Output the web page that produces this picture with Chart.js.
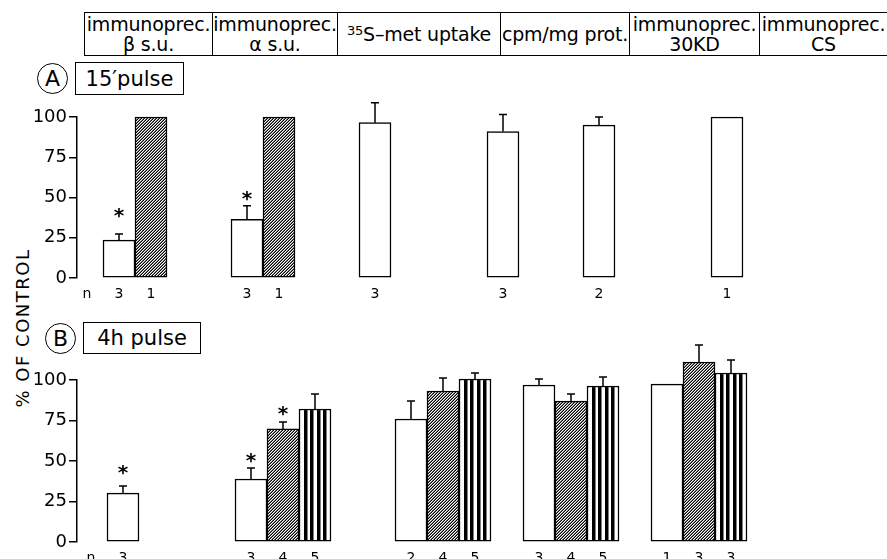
<!DOCTYPE html>
<html>
<head>
<meta charset="utf-8">
<script src="https://cdn.jsdelivr.net/npm/chart.js@4.4.1/dist/chart.umd.min.js"></script>
<style>
  body { margin: 0; background: #fff; }
  #wrap { position: relative; width: 887px; height: 559px; overflow: hidden; font-family: 'DejaVu Sans', sans-serif; color: #000; }
  .hdr { position: absolute; top: 12px; height: 44px; box-sizing: border-box; border-top: 1.5px solid #000; border-bottom: 1.5px solid #000; border-left: 1.5px solid #000; display: flex; flex-direction: column; justify-content: center; align-items: center; font-size: 19px; line-height: 20px; letter-spacing: -0.2px; white-space: nowrap; }
  .hdr sup { font-size: 13px; vertical-align: 6px; line-height: 0; }
  .circ { position: absolute; box-sizing: border-box; border: 1.5px solid #000; border-radius: 50%; display: flex; align-items: center; justify-content: center; font-size: 22px; }
  .tag { position: absolute; box-sizing: border-box; border: 1.5px solid #000; display: flex; align-items: center; justify-content: center; font-size: 21px; }
  .ytitle { position: absolute; left: 22px; top: 328px; transform: translate(-50%, -50%) rotate(-90deg); font-size: 18px; letter-spacing: 1.5px; white-space: nowrap; }
  canvas { position: absolute; left: 0; }
</style>
</head>
<body>
<div id="wrap">
  <div class="circ" style="left:37px; top:63px; width:31px; height:31px;">A</div>
  <div class="tag" style="left:75px; top:62px; width:109px; height:33px;">15′pulse</div>
  <div class="circ" style="left:45px; top:323px; width:31px; height:31px;">B</div>
  <div class="tag" style="left:83px; top:322px; width:118px; height:32px;">4h pulse</div>
  <div class="ytitle">% OF CONTROL</div>
  <canvas id="pulse15" width="887" height="210" style="top:95px;"></canvas>
  <canvas id="pulse4h" width="887" height="224" style="top:335px;"></canvas>
</div>
<script>
// column headings (left edge, right edge in px, text lines)
const headEdges = [84, 212, 337, 500, 629, 759, 887];
const headLines = [
  ['immunoprec.', 'β s.u.'],
  ['immunoprec.', 'α s.u.'],
  ['<sup>35</sup>S–met uptake'],
  ['cpm/mg prot.'],
  ['immunoprec.', '30KD'],
  ['immunoprec.', 'CS']
];

// A: 15' pulse. x = bar slot, values in % of control
const aWhiteX = [0, 4, 8, 12, 15, 19];
const aWhite = [23.5, 36.5, 96.5, 91, 95, 100];
const aWhiteErr = [3.8, 8.3, 12.3, 10.5, 5, 0];
const aWhiteN = ['3', '3', '3', '3', '2', '1'];
const aWhiteStar = [42, 53, null, null, null, null];
const aHatchX = [1, 5];
const aHatch = [100, 100];
const aHatchErr = [0, 0];
const aHatchN = ['1', '1'];

// B: 4h pulse
const bWhiteX = [0, 4, 9, 13, 17];
const bWhite = [30.2, 38.9, 75.9, 96.9, 97.5];
const bWhiteErr = [4.4, 6.8, 11.1, 3.7, 0];
const bWhiteN = ['3', '3', '2', '3', '1'];
const bWhiteStar = [46, 54, null, null, null];
const bHatchX = [5, 10, 14, 18];
const bHatch = [69.8, 93.2, 87, 111.1];
const bHatchErr = [4.3, 8, 4.4, 10.5];
const bHatchN = ['4', '4', '4', '3'];
const bHatchStar = [83, null, null, null];
const bStripeX = [6, 11, 15, 19];
const bStripe = [82.1, 100.6, 96.3, 104.3];
const bStripeErr = [9.3, 3.7, 5.6, 8];
const bStripeN = ['5', '5', '5', '3'];

const yTicks = [0, 25, 50, 75, 100];

// header boxes
const wrap = document.getElementById('wrap');
headLines.forEach((lines, i) => {
  const d = document.createElement('div');
  d.className = 'hdr';
  d.style.left = headEdges[i] + 'px';
  d.style.width = (headEdges[i + 1] - headEdges[i]) + 'px';
  d.innerHTML = lines.map(t => '<div>' + t + '</div>').join('');
  wrap.appendChild(d);
});

Chart.defaults.font.family = "'DejaVu Sans', sans-serif";
Chart.defaults.color = '#000';

// fine diagonal hatching
function hatch() {
  const c = document.createElement('canvas');
  c.width = 3; c.height = 3;
  const g = c.getContext('2d');
  g.fillStyle = '#fff'; g.fillRect(0, 0, 3, 3);
  for (let x = 0; x < 3; x++) {
    for (let y = 0; y < 3; y++) {
      const k = (x + y) % 3;
      if (k === 2) { g.fillStyle = '#000'; g.fillRect(x, y, 1, 1); }
      if (k === 1) { g.fillStyle = '#777'; g.fillRect(x, y, 1, 1); }
    }
  }
  return g.createPattern(c, 'repeat');
}

// vertical black stripes, lined up with the bar slots
function stripes(chart) {
  const c = document.createElement('canvas');
  c.width = 32; c.height = 2;
  const g = c.getContext('2d');
  g.fillStyle = '#fff'; g.fillRect(0, 0, 32, 2);
  g.fillStyle = '#000';
  [5, 11, 18, 24].forEach(s => g.fillRect(s, 0, 3.5, 2));
  const p = g.createPattern(c, 'repeat');
  const left = chart.scales.x.getPixelForValue(0) - 16;
  p.setTransform(new DOMMatrix().translate(left, 0));
  return p;
}

function series(xs, ys, fill, errs, ns, stars) {
  return {
    data: xs.map((x, i) => ({ x: x, y: ys[i] })),
    errors: errs, nums: ns, stars: stars || [],
    backgroundColor: fill,
    borderColor: '#000',
    borderWidth: 1.5,
    borderSkipped: false,
    grouped: false,
    barPercentage: 1,
    categoryPercentage: 1,
    clip: false
  };
}

// error bars (upper half) and asterisks
const errorBars = {
  id: 'errorBars',
  afterDatasetsDraw(chart) {
    const ctx = chart.ctx, y = chart.scales.y;
    ctx.save();
    ctx.strokeStyle = '#000';
    ctx.fillStyle = '#000';
    ctx.lineWidth = 1.5;
    ctx.font = "bold 20px 'DejaVu Sans'";
    ctx.textAlign = 'center';
    ctx.textBaseline = 'alphabetic';
    chart.data.datasets.forEach((ds, i) => {
      chart.getDatasetMeta(i).data.forEach((bar, j) => {
        const e = ds.errors[j];
        if (e) {
          const top = y.getPixelForValue(ds.data[j].y + e);
          ctx.beginPath();
          ctx.moveTo(bar.x, bar.y);
          ctx.lineTo(bar.x, top);
          ctx.moveTo(bar.x - 4, top);
          ctx.lineTo(bar.x + 4, top);
          ctx.stroke();
        }
        const s = ds.stars[j];
        if (s != null) ctx.fillText('*', bar.x, y.getPixelForValue(s) + 12);
      });
    });
    ctx.restore();
  }
};

function nLabels(datasets) {
  const m = { '-1': 'n' };
  datasets.forEach(ds => ds.data.forEach((p, i) => { m[p.x] = ds.nums[i]; }));
  return m;
}

function panel(id, datasets, xMin, xMax, padTop, axisH) {
  const nMap = nLabels(datasets);
  return new Chart(document.getElementById(id), {
    type: 'bar',
    data: { datasets: datasets },
    plugins: [errorBars],
    options: {
      responsive: false,
      animation: false,
      layout: { padding: { top: padTop, right: 16, left: 0, bottom: 0 } },
      plugins: { legend: { display: false }, tooltip: { enabled: false } },
      scales: {
        x: {
          type: 'linear',
          bounds: 'data',
          offset: false,
          min: xMin,
          max: xMax,
          grid: { display: false, offset: false },
          border: { display: false },
          afterBuildTicks: axis => { axis.ticks = Object.keys(nMap).map(v => ({ value: +v })); },
          afterFit: axis => { axis.height = axisH; },
          ticks: { autoSkip: false, maxRotation: 0, padding: 0, font: { size: 14 }, callback: v => nMap[v] || '' }
        },
        y: {
          min: 0,
          max: 100,
          afterBuildTicks: axis => { axis.ticks = yTicks.map(v => ({ value: v })); },
          afterFit: axis => { axis.width = 77; },
          ticks: { padding: 2, font: { size: 18 } },
          grid: { display: true, drawOnChartArea: false, drawTicks: true, tickLength: 8, color: '#000', lineWidth: 1.5 },
          border: { display: true, color: '#000', width: 1.5 }
        }
      }
    }
  });
}

panel('pulse15', [
  series(aWhiteX, aWhite, '#fff', aWhiteErr, aWhiteN, aWhiteStar),
  series(aHatchX, aHatch, hatch(), aHatchErr, aHatchN)
], -1.3125, 23.5, 22, 27);

panel('pulse4h', [
  series(bWhiteX, bWhite, '#fff', bWhiteErr, bWhiteN, bWhiteStar),
  series(bHatchX, bHatch, hatch(), bHatchErr, bHatchN, bHatchStar),
  series(bStripeX, bStripe, c => stripes(c.chart), bStripeErr, bStripeN)
], -1.4375, 23.375, 45, 17);
</script>
</body>
</html>
